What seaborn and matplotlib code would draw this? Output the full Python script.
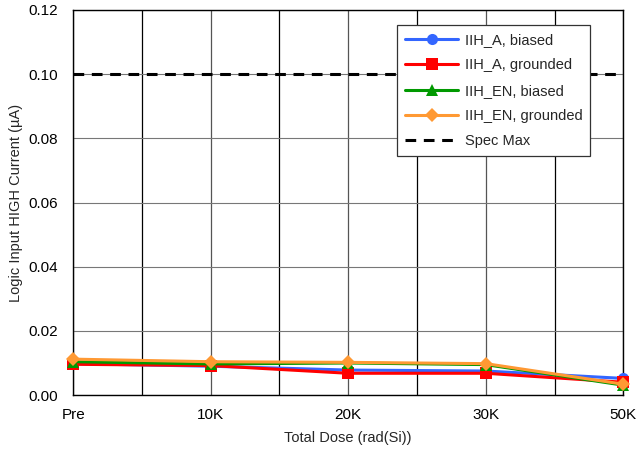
import numpy as np
import pandas as pd
import matplotlib
matplotlib.use("Agg")
import matplotlib.pyplot as plt
import seaborn as sns

# Data
doses = ["Pre", "10K", "20K", "30K", "50K"]
iih_a_biased = [0.0098, 0.0090, 0.0078, 0.0075, 0.0052]
iih_a_grounded = [0.0096, 0.0092, 0.0068, 0.0068, 0.0040]
iih_en_biased = [0.0104, 0.0097, 0.0100, 0.0095, 0.0031]
iih_en_grounded = [0.0112, 0.0104, 0.0102, 0.0098, 0.0034]
spec_max = 0.10

series = [
    ("IIH_A, biased", iih_a_biased, "#3366FF", "o", 8),
    ("IIH_A, grounded", iih_a_grounded, "#FF0000", "s", 8.5),
    ("IIH_EN, biased", iih_en_biased, "#009900", "^", 8.5),
    ("IIH_EN, grounded", iih_en_grounded, "#FF9933", "D", 7),
]

sns.set_theme(style="white")
plt.rcParams["font.family"] = ["Liberation Sans", "DejaVu Sans"]

fig = plt.figure(figsize=(6.36, 4.5), dpi=100)
ax = fig.add_axes([0.115, 0.122, 0.865, 0.856])

xpos = np.arange(len(doses))
for name, vals, col, mk, ms in series:
    df = pd.DataFrame({"x": xpos, "y": vals})
    sns.lineplot(data=df, x="x", y="y", ax=ax, color=col, marker=mk,
                 markersize=ms, markeredgewidth=0, linewidth=2.2,
                 label=name, zorder=3, clip_on=False)

ax.axhline(spec_max, color="black", linewidth=2.2, linestyle=(0, (3.5, 2.5)),
           label="Spec Max", zorder=3)

ax.set_xlim(0, len(doses) - 1)
ax.set_ylim(0, 0.12)
ax.set_xticks(xpos)
ax.set_xticklabels(doses)
ax.set_xticks(xpos[:-1] + 0.5, minor=True)
ax.set_yticks(np.arange(0, 0.1201, 0.02))
ax.yaxis.set_major_formatter(matplotlib.ticker.FormatStrFormatter("%.2f"))
ax.grid(True, which="major", axis="y", color="#777777", linewidth=0.8)
ax.grid(True, which="major", axis="x", color="#555555", linewidth=0.9)
ax.grid(True, which="minor", axis="x", color="black", linewidth=0.9)
ax.tick_params(axis="both", labelsize=11, length=0, colors="black")
ax.tick_params(axis="x", pad=9)
ax.tick_params(axis="y", pad=11)
for s in ax.spines.values():
    s.set_color("black")
    s.set_linewidth(1.0)

ax.set_xlabel("Total Dose (rad(Si))", fontsize=10.5, labelpad=7)
ax.set_ylabel("Logic Input HIGH Current (\u00b5A)", fontsize=10.5, labelpad=4)

leg = ax.legend(loc="upper right", bbox_to_anchor=(0.94, 0.961), fontsize=10.5,
                frameon=True, fancybox=False, framealpha=1, edgecolor="#333333",
                handlelength=3.6, borderpad=0.55, labelspacing=0.78,
                handletextpad=0.45, borderaxespad=0)
leg.get_frame().set_linewidth(0.9)

fig.savefig("out.png", dpi=100)
